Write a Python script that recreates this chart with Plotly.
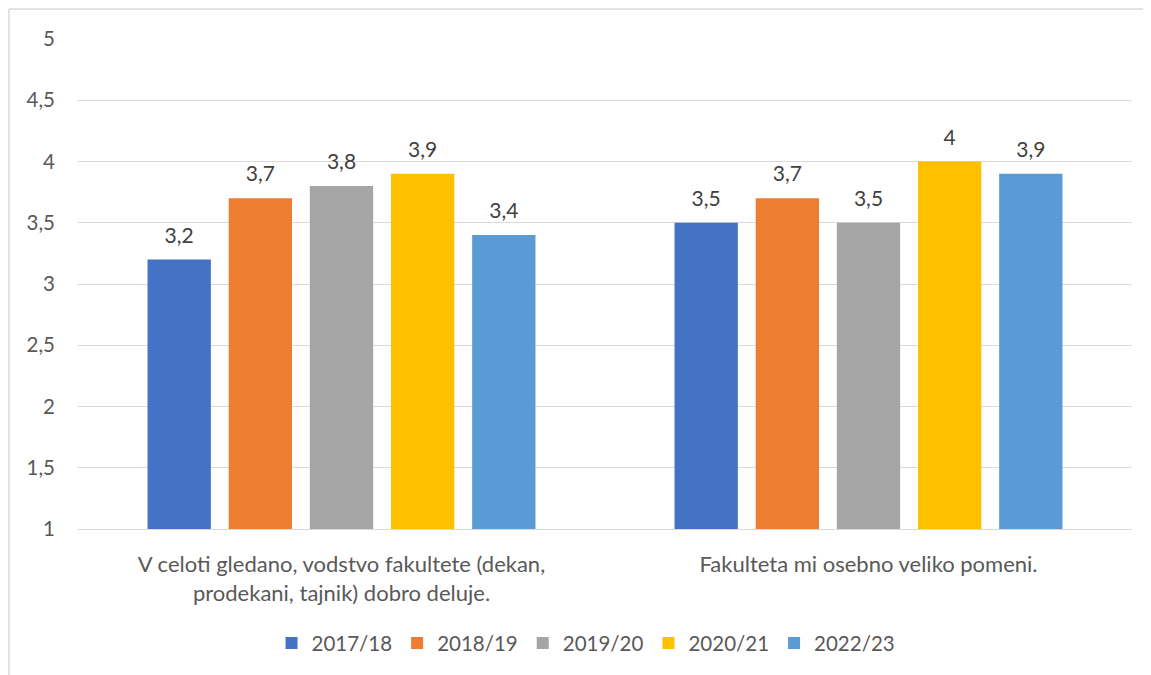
import plotly.graph_objects as go

categories = [
    "V celoti gledano, vodstvo fakultete (dekan,<br>prodekani, tajnik) dobro deluje.",
    "Fakulteta mi osebno veliko pomeni.",
]
years = ["2017/18", "2018/19", "2019/20", "2020/21", "2022/23"]
values = [
    [3.2, 3.5],
    [3.7, 3.7],
    [3.8, 3.5],
    [3.9, 4.0],
    [3.4, 3.9],
]
colors = ["#4472C4", "#ED7D31", "#A5A5A5", "#FFC000", "#5B9BD5"]

FONT = "Lato, 'Open Sans', sans-serif"
GREY = "#595959"
LABEL_PAD = 0.08  # lift data labels a little above the bar tops

fig = go.Figure()
for i, (year, vals, col) in enumerate(zip(years, values, colors)):
    fig.add_trace(go.Bar(
        name=year, x=categories, y=vals, offsetgroup=str(i),
        marker=dict(color=col, line=dict(width=0)),
        hoverinfo="x+y",
    ))
    # transparent helper bar sitting on top, only carries the label
    fig.add_trace(go.Bar(
        x=categories, y=[LABEL_PAD] * len(vals), base=vals, offsetgroup=str(i),
        marker=dict(color="rgba(0,0,0,0)", line=dict(width=0)),
        text=[f"{v:g}".replace(".", ",") for v in vals],
        textposition="outside", cliponaxis=False, constraintext="none",
        textfont=dict(family=FONT, size=21, color="#404040"),
        showlegend=False, hoverinfo="skip",
    ))

fig.update_layout(
    width=1151, height=675,
    margin=dict(l=70, r=27, t=31, b=154),
    paper_bgcolor="white", plot_bgcolor="white",
    barmode="group", bargap=0.23, bargroupgap=0.22,
    separators=",.",
    font=dict(family=FONT, size=18, color=GREY),
    showlegend=True,
    legend=dict(orientation="h", x=0.482, xanchor="center", y=-0.233, yanchor="middle",
                font=dict(family=FONT, size=20.5, color=GREY), itemwidth=30,
                traceorder="normal"),
    shapes=[
        dict(type="line", xref="paper", yref="paper", x0=-0.0655, x1=1.1, y0=1.0612, y1=1.0612,
             line=dict(color="#d9d9d9", width=1.5)),
        dict(type="line", xref="paper", yref="paper", x0=-0.0655, x1=-0.0655, y0=1.0612, y1=-0.35,
             line=dict(color="#d9d9d9", width=1.5)),
    ],
)
fig.update_yaxes(range=[1, 5], dtick=0.5, showgrid=True, gridcolor="#d9d9d9", gridwidth=1,
                 zeroline=False, ticks="", ticklabelstandoff=22,
                 tickfont=dict(family=FONT, size=20.5, color=GREY))
fig.update_xaxes(showline=True, linecolor="#d9d9d9", linewidth=1, ticks="",
                 ticklabelstandoff=16,
                 tickfont=dict(family=FONT, size=22, color=GREY))

fig.write_html("out.html")
